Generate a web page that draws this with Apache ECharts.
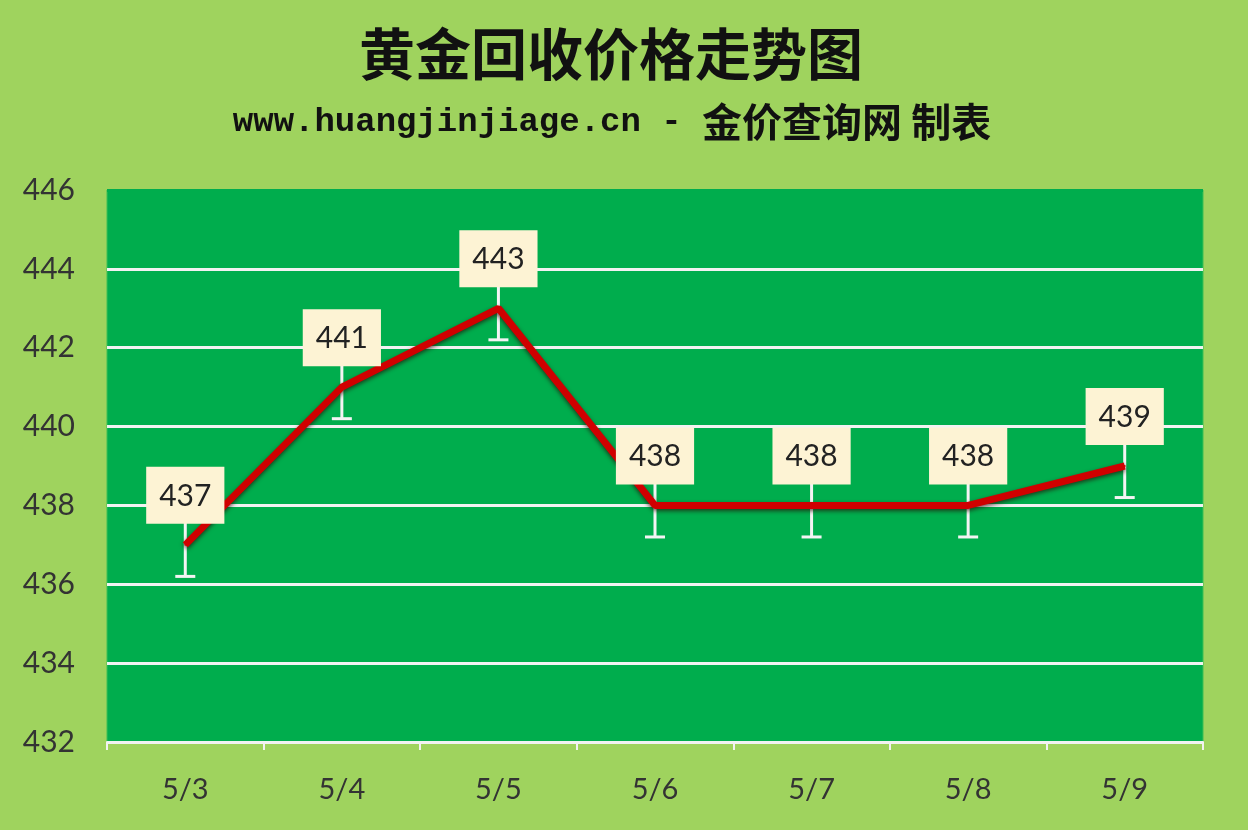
<!DOCTYPE html>
<html>
<head>
<meta charset="utf-8">
<script src="https://cdn.jsdelivr.net/npm/echarts@6/dist/echarts.min.js"></script>
<style>html,body{margin:0;padding:0;background:#9fd35e;}#c{width:1248px;height:830px;}</style>
</head>
<body>
<div id="c"></div>
<script>
const categories = ['5/3','5/4','5/5','5/6','5/7','5/8','5/9'];
const prices = [437, 441, 443, 438, 438, 438, 439];
const errMinus = [0.8, 0.8, 0.8, 0.8, 0.8, 0.8, 0.8];
const yTicks = [432, 434, 436, 438, 440, 442, 444, 446];

const chart = echarts.init(document.getElementById('c'));
const errData = prices.map((v, i) => [i, v, errMinus[i]]);
chart.setOption({
  backgroundColor: '#9fd35e',
  animation: false,
  title: [
    { text: '黄金回收价格走势图', left: 606, textAlign: 'center', top: 21,
      textStyle: { fontFamily: 'Noto Sans CJK SC', fontSize: 56, fontWeight: 'bold', color: '#111' } },
    { text: '{a|www.huangjinjiage.cn - }{b|金价查询网 制表}', left: 607, textAlign: 'center', top: 97,
      textStyle: { rich: {
        a: { fontFamily: 'Liberation Mono', fontSize: 34, fontWeight: 'bold', color: '#111' },
        b: { fontFamily: 'Noto Sans CJK SC', fontSize: 40, fontWeight: 'bold', color: '#111' }
      } } }
  ],
  grid: { left: 107, right: 45, top: 190, bottom: 88, show: true, backgroundColor: '#00ad4d', borderColor: '#3cbf55', borderWidth: 1 },
  xAxis: {
    type: 'category', data: categories, boundaryGap: true,
    axisLine: { lineStyle: { color: '#f2f2f2', width: 2 } },
    axisTick: { show: true, length: 8, lineStyle: { color: '#f2f2f2', width: 2 } },
    axisLabel: { fontFamily: 'Lato', fontSize: 29, color: '#333', margin: 33 }
  },
  yAxis: {
    type: 'value', min: yTicks[0], max: yTicks[yTicks.length - 1], interval: 2,
    axisLine: { show: false }, axisTick: { show: false },
    axisLabel: { fontFamily: 'Lato', fontSize: 30, color: '#333', margin: 32 },
    splitLine: { lineStyle: { color: ['#f2f2f2','#f2f2f2','#f2f2f2','#f2f2f2','#f2f2f2','#f2f2f2','#f2f2f2','#00ad4d'], width: 3 } }
  },
  series: [
    {
      type: 'custom', z: 2, data: errData,
      renderItem: function (params, api) {
        const p = api.coord([api.value(0), api.value(1)]);
        const lo = api.coord([api.value(0), api.value(1) - api.value(2)]);
        return { type: 'group', children: [
          { type: 'line', shape: { x1: p[0], y1: p[1] - 24, x2: p[0], y2: lo[1] }, style: { stroke: '#f4f4f4', lineWidth: 3 } },
          { type: 'line', shape: { x1: p[0] - 10, y1: lo[1], x2: p[0] + 10, y2: lo[1] }, style: { stroke: '#f4f4f4', lineWidth: 3 } }
        ] };
      }
    },
    {
      type: 'line', z: 3, data: prices, symbol: 'circle', symbolSize: 2, showSymbol: true,
      itemStyle: { color: '#d00000' },
      lineStyle: { color: '#d00000', width: 7, shadowColor: 'rgba(40,0,0,0.65)', shadowBlur: 4, shadowOffsetY: 2 },
      label: { show: true, position: 'top', distance: 20, backgroundColor: '#fdf3d4',
        padding: [14, 13, 13, 13], fontFamily: 'Lato', fontSize: 30, color: '#222' }
    }
  ]
});
</script>
</body>
</html>
